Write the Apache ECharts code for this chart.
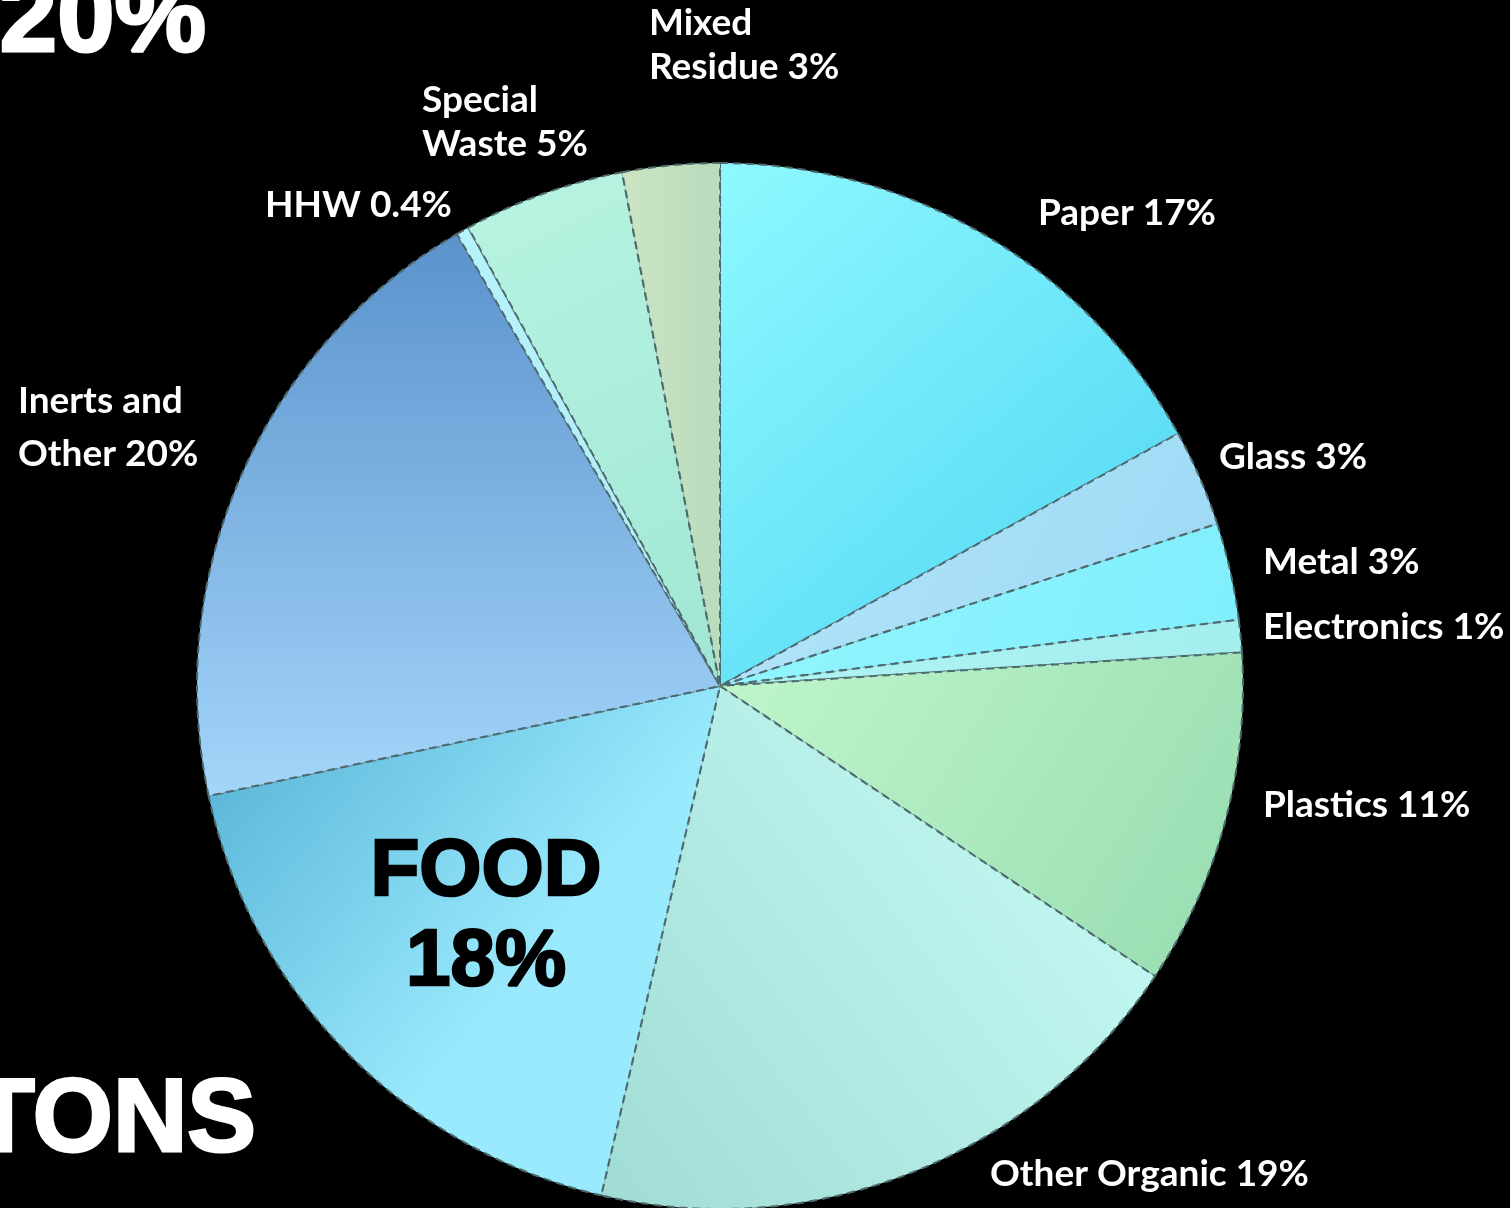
<!DOCTYPE html>
<html>
<head>
<meta charset="utf-8">
<style>
html,body{margin:0;padding:0;background:#000;}
#chart{width:1510px;height:1208px;}
</style>
<script src="https://cdn.jsdelivr.net/npm/echarts@6/dist/echarts.min.js"></script>
</head>
<body>
<div id="chart"></div>
<script>
// Data (clockwise from 12 o'clock)
var categories = ['Paper','Glass','Metal','Electronics','Plastics','Other Organic','Food','Inerts and Other','HHW','Special Waste','Mixed Residue'];
var values = [17, 3, 3, 1, 10.4, 19.3, 18, 20, 0.4, 5, 3];
var labelTexts = ['Paper 17%','Glass 3%','Metal 3%','Electronics 1%','Plastics 11%','Other Organic 19%','FOOD\n18%','Inerts and\nOther 20%','HHW 0.4%','Special\nWaste 5%','Mixed\nResidue 3%'];
var bigTexts = ['20%', 'TONS'];

// Styling (not data)
var gradients = [
  ['#8ef9ff','#4cd4f2'],
  ['#b4e6fa','#9cd8f4'],
  ['#92f6ff','#80eefc'],
  ['#b0f4f4','#a4eeee'],
  ['#c0f6cc','#96dcb0'],
  ['#c6fcf6','#a0dcd4'],
  ['#5cb8da','#9aeafd'],
  ['#5a92cc','#a4d6fa'],
  ['#b6f2fa','#b0eef8'],
  ['#b8f4e2','#a0e6d4'],
  ['#cce4c4','#b8dcbc']
];
var gradDirs = [
  [0,0,1,1],[0,0,1,1],[0,0,1,1],[0,0,1,1],[0,0,1,1],
  [1,0.2,0,1],[0.05,0.15,0.6,0.6],[0,0,0,1],[0,0,1,1],[0,0,1,1],[0,0,1,0]
];
var labelPos = [
  [1038,213,'left'],[1219,457,'left'],[1263,562,'left'],[1263,627,'left'],[1263,805,'left'],
  [990,1174,'left'],[486,918,'center'],[18,428,'left'],[265,205,'left'],[422,122,'left'],[649,45,'left']
];

var chart = echarts.init(document.getElementById('chart'));
var seriesData = categories.map(function(c, i){
  var g = gradients[i], d = gradDirs[i];
  var item = {
    name: c,
    value: values[i],
    itemStyle: {
      color: new echarts.graphic.LinearGradient(d[0], d[1], d[2], d[3], [
        {offset: 0, color: g[0]}, {offset: 1, color: g[1]}
      ])
    }
  };
  if (c === 'Food') {
    item.label = {
      color: '#000', fontFamily: 'Liberation Sans', fontWeight: 'bold', fontSize: 80,
      lineHeight: 90, align: 'center', textBorderColor: '#000', textBorderWidth: 2.5
    };
  } else if (c === 'Inerts and Other') {
    item.label = { lineHeight: 53 };
  }
  return item;
});

chart.setOption({
  backgroundColor: '#000',
  animation: false,
  graphic: [
    { type: 'text', z: 10,
      style: { text: bigTexts[0], x: 206, y: 23, align: 'right', verticalAlign: 'middle',
               fill: '#fff', stroke: '#fff', lineWidth: 3, font: 'bold 103px "Liberation Sans"' } },
    { type: 'text', z: 10,
      style: { text: bigTexts[1], x: 256, y: 1123, align: 'right', verticalAlign: 'middle',
               fill: '#fff', stroke: '#fff', lineWidth: 3, font: 'bold 103px "Liberation Sans"' } }
  ],
  series: [{
    type: 'pie',
    center: [720, 686],
    radius: 523,
    startAngle: 90,
    clockwise: true,
    data: seriesData,
    itemStyle: {
      borderColor: '#4f6a6e',
      borderWidth: 2,
      borderType: [8, 5]
    },
    label: {
      show: true,
      formatter: function(p){ return labelTexts[p.dataIndex]; },
      color: '#fff',
      fontFamily: 'Lato',
      fontWeight: 'bold',
      fontSize: 37,
      lineHeight: 44,
      overflow: 'none'
    },
    labelLine: { show: false },
    labelLayout: function(params){
      var p = labelPos[params.dataIndex];
      return { x: p[0], y: p[1], align: p[2], verticalAlign: 'middle', moveOverlap: false, hideOverlap: false };
    },
    emphasis: { disabled: true }
  }]
});
</script>
</body>
</html>
